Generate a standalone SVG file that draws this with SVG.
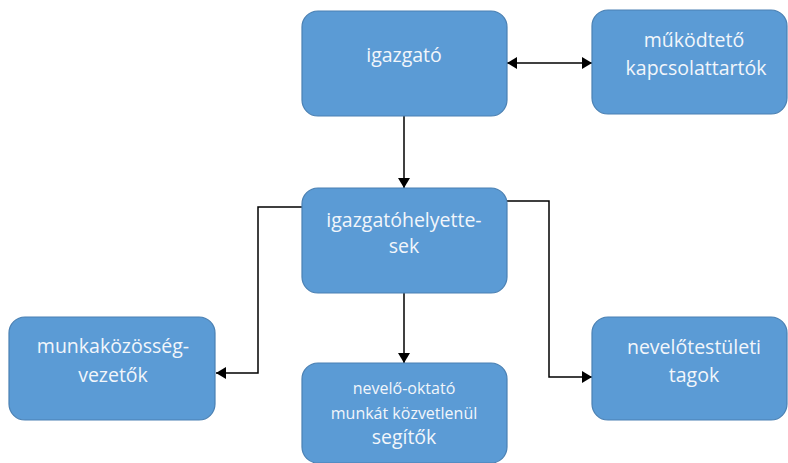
<svg xmlns="http://www.w3.org/2000/svg" width="788" height="463" viewBox="0 0 788 463">
<style>
.box{fill:#5b9bd5;stroke:#4a80b3;stroke-width:1.2}
.t{font-family:"Open Sans","Liberation Sans",sans-serif;font-size:19.5px;fill:#f2f6fb;text-anchor:middle}
.s{font-size:16px}
.c{fill:none;stroke:#000;stroke-width:1.5}
</style>
<defs>
<marker id="ah" viewBox="0 0 10 12" refX="10" refY="6" markerWidth="10" markerHeight="12" markerUnits="userSpaceOnUse" orient="auto-start-reverse">
<path d="M0,0 L10,6 L0,12 z" fill="#000"/>
</marker>
</defs>
<rect width="788" height="463" fill="#fff"/>
<g id="connectors">
<path class="c" d="M404,116 V188" marker-end="url(#ah)"/>
<path class="c" d="M507,63 H592" marker-start="url(#ah)" marker-end="url(#ah)"/>
<path class="c" d="M404,293 V363" marker-end="url(#ah)"/>
<path class="c" d="M302,207 H258 V373 H216" marker-end="url(#ah)"/>
<path class="c" d="M507,201 H549 V377 H592" marker-end="url(#ah)"/>
</g>
<g id="igazgato">
<rect class="box" x="302" y="11" width="205" height="105" rx="16"/>
<text class="t" x="404" y="62">igazgató</text>
</g>
<g id="mukodteto">
<rect class="box" x="592" y="10" width="195" height="104" rx="16"/>
<text class="t" x="694" y="47">működtető</text>
<text class="t" x="696" y="75">kapcsolattartók</text>
</g>
<g id="helyettesek">
<rect class="box" x="302" y="188" width="205" height="105" rx="16"/>
<text class="t" x="404" y="227">igazgatóhelyette-</text>
<text class="t" x="404" y="253">sek</text>
</g>
<g id="munkakozosseg">
<rect class="box" x="9" y="317" width="206" height="103" rx="16"/>
<text class="t" x="113" y="353">munkaközösség-</text>
<text class="t" x="113" y="382">vezetők</text>
</g>
<g id="nevelo-oktato">
<rect class="box" x="302" y="363" width="205" height="100" rx="16"/>
<text class="t s" x="404" y="394">nevelő-oktató</text>
<text class="t s" x="404" y="419">munkát közvetlenül</text>
<text class="t" x="404" y="444">segítők</text>
</g>
<g id="nevelotestuleti">
<rect class="box" x="592" y="317" width="195" height="103" rx="16"/>
<text class="t" x="694" y="354">nevelőtestületi</text>
<text class="t" x="694" y="382">tagok</text>
</g>
</svg>
